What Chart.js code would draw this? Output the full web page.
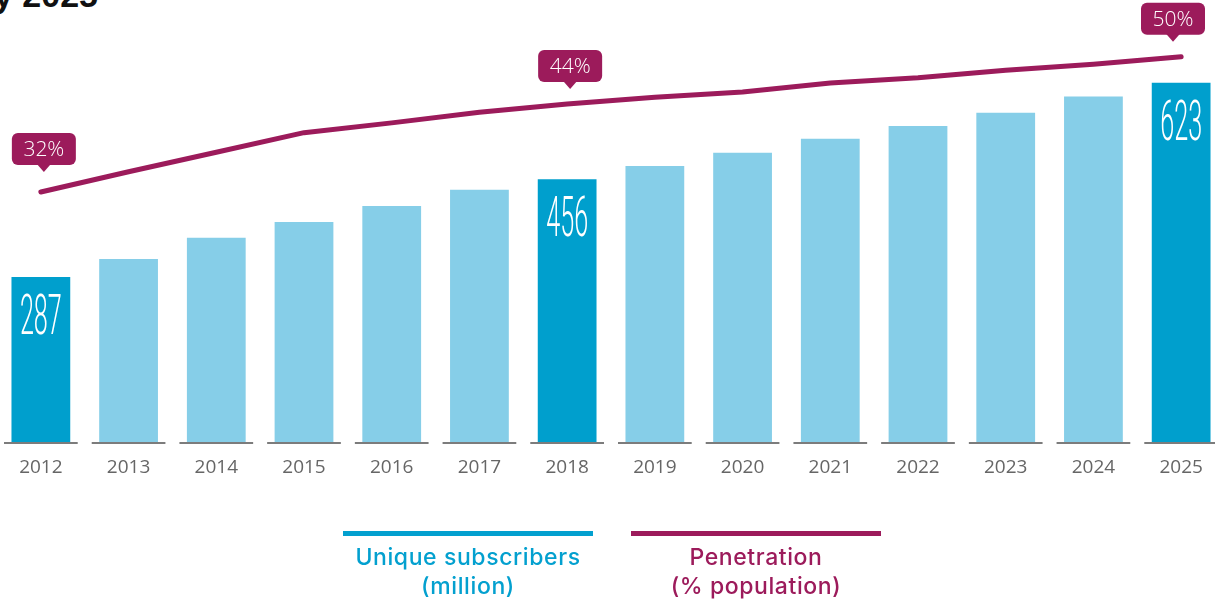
<!DOCTYPE html>
<html>
<head>
<meta charset="utf-8">
<title>Unique subscribers and penetration</title>
<script src="https://cdn.jsdelivr.net/npm/chart.js@4.4.1/dist/chart.umd.min.js"></script>
<style>
  html, body {
    margin: 0;
    padding: 0;
    background: #fff;
    width: 1215px;
    height: 603px;
    overflow: hidden;
    position: relative;
    font-family: "Open Sans", sans-serif;
  }
  #title {
    position: absolute;
    left: -6px;
    top: -22px;
    font-family: "Liberation Sans", sans-serif;
    font-weight: bold;
    font-size: 34px;
    line-height: 34px;
    color: #111;
    white-space: nowrap;
  }
  #wrap {
    position: absolute;
    left: -3px;
    top: 0;
    width: 1228px;
    height: 603px;
  }
  .key-line {
    position: absolute;
    top: 531px;
    width: 250px;
    height: 5px;
  }
  .key-text {
    position: absolute;
    top: 543px;
    width: 300px;
    text-align: center;
    font-family: Inter, sans-serif;
    font-size: 23px;
    font-weight: 500;
    letter-spacing: 0.6px;
    line-height: 29px;
  }
</style>
</head>
<body>
<div id="title">y 2025</div>
<div id="wrap"><canvas id="chart" width="1228" height="603"></canvas></div>

<div class="key-line" style="left:343px; background:#03a0cf;"></div>
<div class="key-text" style="left:318px; color:#03a0cf;">Unique subscribers<br>(million)</div>
<div class="key-line" style="left:631px; background:#9c1b5b;"></div>
<div class="key-text" style="left:606px; color:#9c1b5b;">Penetration<br>(% population)</div>

<script>
// categories
const years = ["2012", "2013", "2014", "2015", "2016", "2017", "2018",
  "2019", "2020", "2021", "2022", "2023", "2024", "2025"];

// unique subscribers (million)
const subscribers = [287, 318, 355, 382, 410, 438, 456, 479, 502, 526, 548, 571, 599, 623];

// penetration (% population)
const penetration = [32.0, 34.7, 37.3, 39.9, 41.2, 42.6, 43.7, 44.6, 45.3, 46.5, 47.2, 48.2, 49.0, 50.0];

// years that get a dark bar, a value and a callout
const highlighted = ["2012", "2018", "2025"];

const lightBlue = "#86cee8";
const darkBlue = "#009fcd";
const magenta = "#9c1b5b";

let barColors = years.map((y) => (highlighted.includes(y) ? darkBlue : lightBlue));

// thin gray base line under every category, with gaps between them
const baseSegments = {
  id: "baseSegments",
  afterDatasetsDraw(chart) {
    let ctx = chart.ctx;
    let xs = chart.scales.x;
    let step = xs.width / years.length;
    let y = chart.chartArea.bottom;
    ctx.save();
    ctx.strokeStyle = "#7c7c7c";
    ctx.lineWidth = 2;
    years.forEach((yr, i) => {
      let x = xs.getPixelForValue(i);
      ctx.beginPath();
      ctx.moveTo(x - step / 2 + 7, y);
      ctx.lineTo(x + step / 2 - 7, y);
      ctx.stroke();
    });
    ctx.restore();
  },
};

// narrow white numbers inside highlighted bars + callout boxes on the line
const labelsPlugin = {
  id: "labelsPlugin",
  afterDraw(chart) {
    let ctx = chart.ctx;
    let bars = chart.getDatasetMeta(0).data;
    let points = chart.getDatasetMeta(1).data;

    years.forEach((yr, i) => {
      if (!highlighted.includes(yr)) return;

      // value inside bar
      let bar = bars[i];
      ctx.save();
      ctx.translate(bar.x, bar.y + 57);
      ctx.scale(0.45, 1);
      ctx.fillStyle = "#fff";
      ctx.font = "300 56px Roboto";
      ctx.textAlign = "center";
      ctx.textBaseline = "alphabetic";
      ctx.fillText(String(subscribers[i]), 0, 0);
      ctx.restore();

      // callout above the line (kept inside the page on the right)
      let pt = points[i];
      let w = 64, h = 32, r = 6;
      let cx = Math.min(pt.x + 3, 1176);
      let bottom = pt.y - (i === 0 ? 27 : 22);
      let top = bottom - h;
      ctx.save();
      ctx.fillStyle = magenta;
      ctx.beginPath();
      ctx.roundRect(cx - w / 2, top, w, h, r);
      ctx.fill();
      ctx.beginPath();
      ctx.moveTo(cx - 7, bottom - 1);
      ctx.lineTo(cx + 7, bottom - 1);
      ctx.lineTo(cx, bottom + 7);
      ctx.closePath();
      ctx.fill();
      ctx.fillStyle = "#fff";
      ctx.font = "300 21px 'Open Sans'";
      ctx.textAlign = "center";
      ctx.textBaseline = "middle";
      ctx.fillText(Math.round(penetration[i]) + "%", cx, top + h / 2 + 1);
      ctx.restore();
    });
  },
};

let ctx = document.getElementById("chart").getContext("2d");

new Chart(ctx, {
  data: {
    labels: years,
    datasets: [
      {
        type: "bar",
        label: "Unique subscribers (million)",
        data: subscribers,
        backgroundColor: barColors,
        barPercentage: 0.67,
        categoryPercentage: 1,
        yAxisID: "y",
        order: 2,
      },
      {
        type: "line",
        label: "Penetration (% population)",
        data: penetration,
        borderColor: magenta,
        borderWidth: 5,
        borderCapStyle: "round",
        borderJoinStyle: "round",
        pointRadius: 0,
        tension: 0,
        yAxisID: "y1",
        order: 1,
      },
    ],
  },
  options: {
    responsive: false,
    animation: false,
    layout: { padding: 0 },
    plugins: {
      legend: { display: false },
      tooltip: { enabled: false },
    },
    scales: {
      x: {
        grid: { display: false, drawTicks: false },
        border: { display: false },
        ticks: {
          color: "#666666",
          padding: 13,
          font: { family: "'Open Sans'", size: 19 },
        },
        afterFit: (s) => {
          s.height = 160;
        },
      },
      y: {
        display: false,
        min: 0,
        max: 766,
      },
      y1: {
        display: false,
        min: -1.37,
        max: 57.54,
      },
    },
  },
  plugins: [baseSegments, labelsPlugin],
});
</script>
</body>
</html>
